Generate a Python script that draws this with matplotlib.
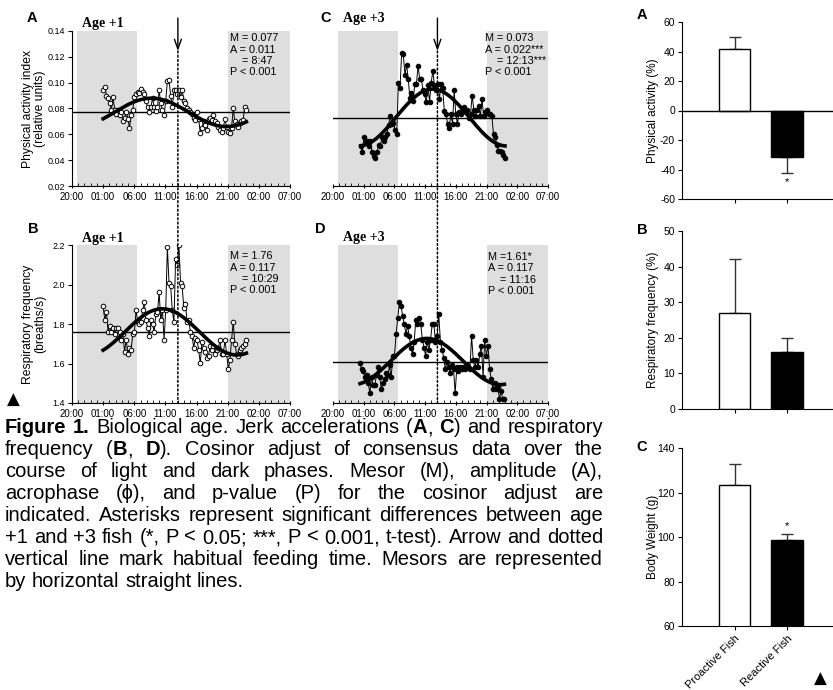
import matplotlib
matplotlib.use("Agg")
import matplotlib.pyplot as plt
import numpy as np
from matplotlib.patches import ConnectionPatch

plt.rcParams['font.family'] = ['Liberation Sans', 'DejaVu Sans']
plt.rcParams['axes.unicode_minus'] = False

W, H = 833, 690

# ---- time axis (hours after 20:00) ----
hour_labels = ["20:00", "01:00", "06:00", "11:00", "16:00", "21:00", "02:00", "07:00"]
dark_phases = [(0.8, 10.5), (25.0, 35.0)]
feeding_hour = 17.0

# ---- physical activity index, age +1 (open circles) ----
act_age1_span = (5.0, 28.0)
act_age1 = [0.094, 0.097, 0.090, 0.088, 0.084, 0.079, 0.089, 0.079, 0.076, 0.079,
            0.075, 0.077, 0.070, 0.073, 0.077, 0.072, 0.065, 0.075, 0.079, 0.089,
            0.091, 0.093, 0.092, 0.095, 0.093, 0.091, 0.086, 0.081, 0.077, 0.081,
            0.088, 0.081, 0.078, 0.081, 0.094, 0.084, 0.079, 0.075, 0.086, 0.101,
            0.102, 0.090, 0.081, 0.094, 0.094, 0.091, 0.094, 0.089, 0.094, 0.086,
            0.084, 0.080, 0.079, 0.077, 0.076, 0.073, 0.071, 0.077, 0.072, 0.061,
            0.065, 0.070, 0.067, 0.063, 0.072, 0.073, 0.071, 0.075, 0.070, 0.069,
            0.066, 0.063, 0.062, 0.065, 0.072, 0.066, 0.062, 0.061, 0.065, 0.080,
            0.070, 0.068, 0.066, 0.069, 0.070, 0.071, 0.081, 0.079]
act_age1_fit = (0.077, 0.011, 12.78)   # mesor, amplitude, acrophase (h after 20:00)
act_age1_stats = ["M = 0.077", "A = 0.011", "    = 8:47", "P < 0.001"]

# ---- physical activity index, age +3 (filled circles) ----
act_age3_span = (4.5, 28.0)
act_age3 = [0.051, 0.046, 0.058, 0.054, 0.055, 0.051, 0.055, 0.046, 0.043, 0.042,
            0.046, 0.052, 0.051, 0.058, 0.055, 0.058, 0.060, 0.067, 0.074, 0.068,
            0.069, 0.063, 0.060, 0.100, 0.096, 0.123, 0.122, 0.106, 0.114, 0.103,
            0.088, 0.092, 0.086, 0.099, 0.099, 0.113, 0.103, 0.103, 0.094, 0.091,
            0.085, 0.098, 0.085, 0.100, 0.109, 0.098, 0.094, 0.099, 0.087, 0.099,
            0.096, 0.078, 0.076, 0.068, 0.065, 0.076, 0.068, 0.094, 0.076, 0.068,
            0.077, 0.076, 0.078, 0.081, 0.077, 0.079, 0.073, 0.076, 0.090, 0.079,
            0.074, 0.079, 0.082, 0.074, 0.087, 0.074, 0.077, 0.079, 0.076, 0.076,
            0.074, 0.060, 0.058, 0.052, 0.047, 0.047, 0.046, 0.044, 0.042]
act_age3_fit = (0.073, 0.022, 16.22)
act_age3_stats = ["M = 0.073", "A = 0.022***", "    = 12:13***", "P < 0.001"]

# ---- respiratory frequency, age +1 ----
resp_age1_span = (5.0, 28.0)
resp_age1 = [1.89, 1.82, 1.86, 1.76, 1.79, 1.76, 1.78, 1.75, 1.78, 1.78,
             1.76, 1.72, 1.75, 1.66, 1.72, 1.65, 1.68, 1.67, 1.75, 1.76,
             1.87, 1.81, 1.80, 1.81, 1.87, 1.91, 1.82, 1.78, 1.74, 1.82,
             1.80, 1.76, 1.85, 1.86, 1.96, 1.82, 1.87, 1.72, 1.87, 2.19,
             2.01, 1.99, 1.87, 1.81, 2.13, 2.10, 2.20, 2.01, 1.99, 1.88,
             1.90, 1.81, 1.82, 1.76, 1.74, 1.68, 1.73, 1.72, 1.67, 1.60,
             1.71, 1.68, 1.66, 1.63, 1.64, 1.69, 1.67, 1.69, 1.65, 1.67,
             1.68, 1.72, 1.65, 1.65, 1.72, 1.65, 1.57, 1.62, 1.72, 1.81,
             1.70, 1.65, 1.64, 1.67, 1.68, 1.69, 1.70, 1.72]
resp_age1_fit = (1.76, 0.117, 14.48)
resp_age1_stats = ["M = 1.76", "A = 0.117", "    = 10:29", "P < 0.001"]

# ---- respiratory frequency, age +3 ----
resp_age3_span = (4.4, 27.9)
resp_age3 = [1.60, 1.57, 1.56, 1.53, 1.54, 1.50, 1.45, 1.53, 1.49, 1.49,
             1.54, 1.58, 1.53, 1.47, 1.50, 1.52, 1.55, 1.54, 1.59, 1.53,
             1.64, 1.64, 1.75, 1.83, 1.91, 1.89, 1.84, 1.80, 1.75, 1.79,
             1.74, 1.68, 1.65, 1.71, 1.82, 1.80, 1.83, 1.80, 1.72, 1.68,
             1.64, 1.71, 1.67, 1.72, 1.80, 1.80, 1.71, 1.74, 1.85, 1.71,
             1.67, 1.63, 1.57, 1.61, 1.58, 1.55, 1.59, 1.57, 1.45, 1.58,
             1.56, 1.58, 1.57, 1.58, 1.57, 1.59, 1.58, 1.57, 1.74, 1.62,
             1.58, 1.62, 1.58, 1.65, 1.69, 1.53, 1.72, 1.64, 1.69, 1.57,
             1.52, 1.47, 1.50, 1.47, 1.48, 1.42, 1.46, 1.42, 1.42]
resp_age3_fit = (1.61, 0.117, 15.27)
resp_age3_stats = ["M =1.61*", "A = 0.117", "    = 11:16", "P < 0.001"]

# ---- bar charts ----
fish_groups = ["Proactive Fish", "Reactive Fish"]
activity_pct = [41.5, -31.5]
activity_err = [8.5, 11.0]
resp_pct = [27.0, 16.0]
resp_err = [15.0, 4.0]
weight_g = [123.5, 98.5]
weight_err = [9.5, 3.0]

caption_lines = [
    "~Figure 1.~ Biological age. Jerk accelerations (~A~, ~C~) and respiratory",
    "frequency (~B~, ~D~). Cosinor adjust of consensus data over the",
    "course of light and dark phases. Mesor (M), amplitude (A),",
    "acrophase (\u03d5), and p-value (P) for the cosinor adjust are",
    "indicated. Asterisks represent significant differences between age",
    "+1 and +3 fish (*, P < 0.05; ***, P < 0.001, t-test). Arrow and dotted",
    "vertical line mark habitual feeding time. Mesors are represented",
    "by horizontal straight lines.",
]

fig = plt.figure(figsize=(W / 100, H / 100), dpi=100)


def px_axes(left, top, right, bottom):
    return fig.add_axes([left / W, 1 - bottom / H, (right - left) / W, (bottom - top) / H])


def time_panel(ax, values, span, fit, stats, filled, ylim, yticks, ylabel, age, stats_xy, age_y):
    ax.set_xlim(0, 35)
    ax.set_ylim(*ylim)
    for a, b in dark_phases:
        ax.axvspan(a, b, color='#dedede', lw=0, zorder=0)
    mesor, amp, phase = fit
    ax.axhline(mesor, color='black', lw=1.0, zorder=2)
    t = np.linspace(span[0], span[1], len(values))
    ax.plot(t, values, '-', color='black', lw=0.7, marker='o', ms=3.3,
            mfc='black' if filled else 'white', mec='black', mew=0.7, zorder=3)
    # cosinor fit from mesor / amplitude / acrophase
    tt = np.linspace(span[0], span[1], 200)
    ax.plot(tt, mesor + amp * np.cos(2 * np.pi * (tt - phase) / 24.0),
            color='black', lw=2.6, zorder=4)
    ax.set_xticks(np.arange(0, 36, 5))
    ax.set_xticklabels(hour_labels)
    ax.set_xticks(np.arange(0, 36, 1), minor=True)
    ax.tick_params(axis='x', which='major', labelsize=7, length=3, width=0.8, direction='inout', pad=3)
    ax.tick_params(axis='x', which='minor', length=2, width=0.6, direction='in')
    ax.spines['top'].set_visible(False)
    ax.spines['right'].set_visible(False)
    if ylabel:
        ax.set_yticks(yticks)
        ax.tick_params(axis='y', labelsize=6.5, length=3, width=0.8, pad=2)
        ax.set_ylabel(ylabel, fontsize=8.7, linespacing=1.05)
        ax.yaxis.set_label_coords(-0.175, 0.5)
        ax.yaxis.label.set_verticalalignment('center')
    else:
        ax.spines['left'].set_visible(False)
        ax.set_yticks([])
    ax.text(stats_xy[0], stats_xy[1], "\n".join(stats), transform=ax.transAxes, fontsize=7.8,
            ha='left', va='top', linespacing=1.15, zorder=5)
    ax.text(0.045, age_y, age, transform=ax.transAxes, fontsize=10, fontweight='bold',
            family='Liberation Serif', ha='left', va='center')


axA = px_axes(72, 31, 290, 186)
axC = px_axes(333, 31, 548, 186)
axB = px_axes(72, 245, 290, 403)
axD = px_axes(333, 245, 548, 403)

time_panel(axA, act_age1, act_age1_span, act_age1_fit, act_age1_stats, False,
           (0.02, 0.14), np.arange(0.02, 0.141, 0.02),
           "Physical activity index\n(relative units)", "Age +1", (0.725, 0.985), 1.05)
axA.yaxis.set_major_formatter(matplotlib.ticker.FormatStrFormatter('%.2f'))
time_panel(axC, act_age3, act_age3_span, act_age3_fit, act_age3_stats, True,
           (0.02, 0.14), None, None, "Age +3", (0.705, 0.985), 1.08)
time_panel(axB, resp_age1, resp_age1_span, resp_age1_fit, resp_age1_stats, False,
           (1.4, 2.2), np.arange(1.4, 2.21, 0.2),
           "Respiratory frequency\n(breaths/s)", "Age +1", (0.725, 0.96), 1.04)
axB.yaxis.set_major_formatter(matplotlib.ticker.FormatStrFormatter('%.1f'))
time_panel(axD, resp_age3, resp_age3_span, resp_age3_fit, resp_age3_stats, True,
           (1.4, 2.2), None, None, "Age +3", (0.72, 0.955), 1.05)

# feeding arrows and dotted lines running from the top panels through the bottom ones
for ax_top, ax_bot in [(axA, axB), (axC, axD)]:
    ax_top.annotate('', xy=(feeding_hour, 0.1245), xytext=(feeding_hour, 0.150),
                    arrowprops=dict(arrowstyle='->,head_length=0.7,head_width=0.25',
                                    lw=1.0, color='black', shrinkA=0, shrinkB=0),
                    annotation_clip=False)
    con = ConnectionPatch(xyA=(feeding_hour, 0.1245), coordsA=ax_top.transData,
                          xyB=(feeding_hour, 1.4), coordsB=ax_bot.transData,
                          linestyle=(0, (1.2, 1.6)), lw=1.1, color='black', zorder=6)
    fig.add_artist(con)


# ---- bar panels ----
def bar_panel(ax, values, errs, ylim, yticks, ylabel, show_xlabels):
    xs = [1, 2]
    colors = ['white', 'black']
    ax.bar(xs, values, width=0.6, color=colors, edgecolor='black', lw=1.0, zorder=2)
    for x, v, e in zip(xs, values, errs):
        yerr = [[0], [e]] if v >= 0 else [[e], [0]]
        ax.errorbar([x], [v], yerr=yerr, fmt='none', ecolor='#333333', elinewidth=1.0,
                    capsize=4, capthick=1.0, zorder=1)
    ax.set_xlim(0, 2.87)
    ax.set_ylim(*ylim)
    ax.set_yticks(yticks)
    ax.set_xticks(xs)
    ax.spines['top'].set_visible(False)
    ax.spines['right'].set_visible(False)
    ax.tick_params(axis='both', labelsize=7.5, length=3, width=0.8, pad=2)
    if show_xlabels:
        ax.set_xticklabels(fish_groups, rotation=45, ha='right', rotation_mode='anchor', fontsize=8)
    else:
        ax.set_xticklabels([])
    ax.set_ylabel(ylabel, fontsize=8.5)
    ax.yaxis.set_label_coords(-0.19, 0.5)
    ax.yaxis.label.set_verticalalignment('center')


axR1 = px_axes(682, 22, 833, 199)
bar_panel(axR1, activity_pct, activity_err, (-60, 60), np.arange(-60, 61, 20),
          "Physical activity (%)", False)
axR1.axhline(0, color='black', lw=1.0, zorder=3)
axR1.text(2, activity_pct[1] - activity_err[1] - 6, "*", ha='center', va='center', fontsize=8)

axR2 = px_axes(682, 231, 833, 409)
bar_panel(axR2, resp_pct, resp_err, (0, 50), np.arange(0, 51, 10),
          "Respiratory frequency (%)", False)

axR3 = px_axes(682, 448, 833, 626)
bar_panel(axR3, weight_g, weight_err, (60, 140), np.arange(60, 141, 20),
          "Body Weight (g)", True)
axR3.text(2, weight_g[1] + weight_err[1] + 3.5, "*", ha='center', va='center', fontsize=8)

# ---- panel letters ----
for lx, ly, letter in [(32, 18, 'A'), (326, 18, 'C'), (33, 229, 'B'), (320, 229, 'D'),
                       (642, 15, 'A'), (642, 230, 'B'), (642, 447, 'C')]:
    fig.text(lx / W, 1 - ly / H, letter, fontsize=10.5, fontweight='bold', ha='center', va='center')

fig.text(13 / W, 1 - 400 / H, '\u25b2', fontsize=12, ha='center', va='center', family='DejaVu Sans')
fig.text(820 / W, 1 - 679 / H, '\u25b2', fontsize=12, ha='center', va='center', family='DejaVu Sans')


# ---- justified caption ----
def parse_caption(line):
    words, bold = [], False
    for w in line.split(' '):
        segs = []
        for i, p in enumerate(w.split('~')):
            if i > 0:
                bold = not bold
            if p:
                segs.append((p, bold))
        words.append(segs)
    return words


renderer = fig.canvas.get_renderer()
cap_left, cap_right, cap_base, cap_step = 5, 603, 433, 22


def measure(size):
    out = []
    for line in caption_lines:
        words = parse_caption(line)
        texts = [[fig.text(0, 0, s, fontsize=size, fontweight='bold' if b else 'normal',
                           ha='left', va='baseline') for s, b in segs] for segs in words]
        seg_w = [[t.get_window_extent(renderer).width for t in ts] for ts in texts]
        out.append((texts, seg_w))
    return out


# pick the size at which the longest line fits the column with plain spaces
probe = measure(12)
longest = max(sum(sum(w) for w in sw) + 0.278 * 12 * 100 / 72 * (len(sw) - 1) for _, sw in probe[:-1])
for texts, _ in probe:
    for ts in texts:
        for t in ts:
            t.remove()
cap_size = 12 * (cap_right - cap_left - 2) / longest
space_w = 0.278 * cap_size * 100 / 72

for i, (texts, seg_w) in enumerate(measure(cap_size)):
    word_w = [sum(w) for w in seg_w]
    last = i == len(caption_lines) - 1
    gap = space_w if last else (cap_right - cap_left - sum(word_w)) / (len(word_w) - 1)
    x = cap_left
    y = cap_base + i * cap_step
    for ts, ws in zip(texts, seg_w):
        for t, w in zip(ts, ws):
            t.set_position((x / W, 1 - y / H))
            x += w
        x += gap

fig.savefig("out.png", dpi=100)
